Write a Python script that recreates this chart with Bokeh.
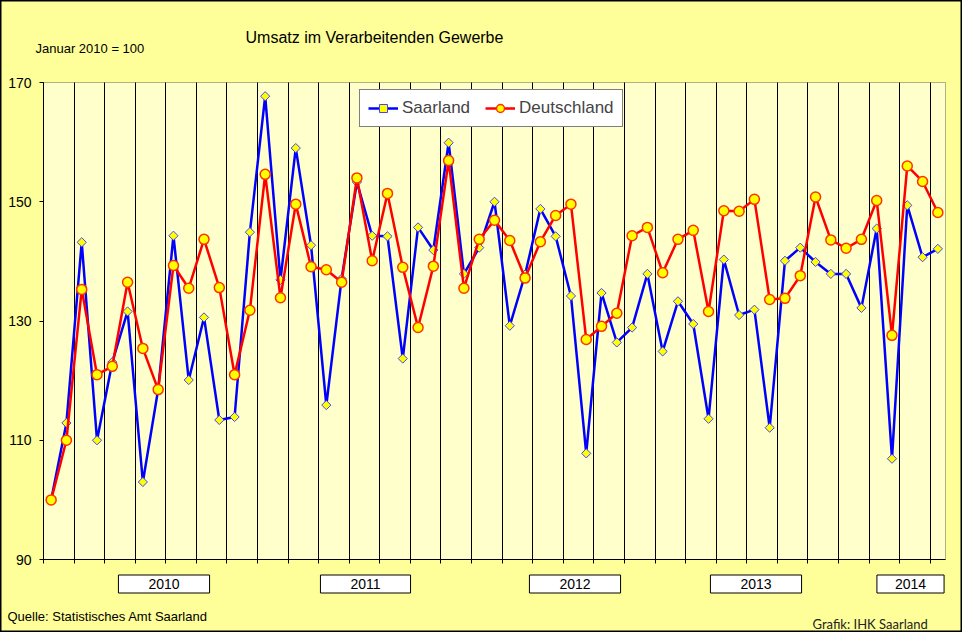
import math
import numpy as np
import pandas as pd
from bokeh.plotting import figure
from bokeh.models import (Range1d, FixedTicker, Label, Legend, LegendItem,
                          ColumnDataSource, LinearAxis, BoxAnnotation)
from bokeh.embed import file_html
from bokeh.resources import INLINE

# Monthly index, January 2010 = 100
months = list(pd.date_range("2010-01-01", periods=59, freq="MS").strftime("%Y-%m"))
saarland = [100.0, 112.9, 143.2, 110.0, 123.1, 131.6, 103.0, 118.5, 144.3, 120.1,
            130.6, 113.4, 113.9, 144.9, 167.7, 136.9, 159.0, 142.7, 115.9, 137.1,
            153.3, 144.3, 144.2, 123.7, 145.7, 141.9, 159.9, 137.9, 142.3, 150.0,
            129.2, 137.8, 148.8, 144.2, 134.2, 107.8, 134.7, 126.4, 128.9, 137.9,
            124.9, 133.3, 129.5, 113.6, 140.3, 131.0, 131.9, 112.1, 140.1, 142.3,
            139.9, 137.9, 137.9, 132.2, 145.5, 106.9, 149.4, 140.7, 142.1]
deutschland = [100.0, 110.0, 135.3, 121.0, 122.4, 136.5, 125.4, 118.5, 139.3, 135.5,
               143.7, 135.6, 121.0, 131.8, 154.6, 133.9, 149.6, 139.1, 138.6, 136.5,
               154.0, 140.1, 151.4, 139.0, 128.9, 139.2, 156.9, 135.5, 143.7, 146.9,
               143.5, 137.2, 143.3, 147.7, 149.6, 126.9, 129.1, 131.3, 144.3, 145.7,
               138.1, 143.7, 145.2, 131.6, 148.5, 148.4, 150.4, 133.6, 133.8, 137.6,
               150.8, 143.6, 142.2, 143.7, 150.2, 127.6, 156.0, 153.4, 148.2]
y_ticks = [90, 110, 130, 150, 170]
year_labels = ["2010", "2011", "2012", "2013", "2014"]

FONT = "Liberation Sans"
Y0, Y1 = 90, 170
N = len(months)
W, H = 962, 632
# plot area inside the picture (pixels)
PL, PT, PW, PH = 43, 82, 902, 477


def at(px, py):
    """picture pixel -> data coordinates"""
    return (px - PL) * N / PW, Y1 - (py - PT) * (Y1 - Y0) / PH


src = ColumnDataSource(dict(x=np.arange(N) + 0.5, month=months,
                            saar=saarland, de=deutschland))

x0, y1 = at(0, 0)
x1, y0 = at(W, H)
p = figure(width=W, height=H, output_backend="svg", toolbar_location=None,
           x_range=Range1d(x0, x1), y_range=Range1d(y0, y1),
           x_axis_location=None, y_axis_location=None, title=None,
           min_border=0)
p.grid.visible = False
p.background_fill_color = "#FFFF99"
p.border_fill_color = "#FFFF99"
p.outline_line_color = "black"
p.outline_line_width = 2

# plot area
p.add_layout(BoxAnnotation(left=0, right=N, bottom=Y0, top=Y1,
                           fill_color="#FFFFCC", fill_alpha=1,
                           line_color="black", line_width=1, level="image"))

# x axis: minor ticks reaching through the plot area act as vertical grid
xaxis = LinearAxis(fixed_location=Y0, bounds=(0, N),
                   ticker=FixedTicker(ticks=[], minor_ticks=list(range(0, N, 2))),
                   minor_tick_in=PH, minor_tick_out=4,
                   minor_tick_line_color="black", minor_tick_line_width=1,
                   major_tick_line_color=None, axis_line_color="black",
                   level="underlay")
p.add_layout(xaxis, "below")

yaxis = LinearAxis(fixed_location=0, bounds=(Y0, Y1),
                   ticker=FixedTicker(ticks=y_ticks),
                   major_tick_out=4, major_tick_in=0,
                   minor_tick_line_color=None, axis_line_color="black",
                   major_label_text_font=FONT, major_label_text_font_size="14px",
                   major_label_text_color="black", major_label_standoff=8)
p.add_layout(yaxis, "left")

l1 = p.line("x", "saar", source=src, line_color="#0000FF", line_width=2.5)
s1 = p.scatter("x", "saar", source=src, marker="square", angle=math.pi / 4,
               size=6.5, fill_color="#FFFF00", line_color="#4444FF", line_width=1)
l2 = p.line("x", "de", source=src, line_color="#FF0000", line_width=2.5)
s2 = p.scatter("x", "de", source=src, marker="circle", size=10,
               fill_color="#FFFF00", line_color="#FF3300", line_width=1.5)

legend = Legend(items=[LegendItem(label="Saarland", renderers=[l1, s1]),
                       LegendItem(label="Deutschland", renderers=[l2, s2])],
                orientation="horizontal", location=(359, H - 127),
                label_text_font=FONT, label_text_font_size="17px",
                glyph_width=30, glyph_height=20, label_standoff=4, spacing=15,
                padding=8, margin=0, border_line_color="black",
                border_line_width=1, background_fill_color="white",
                background_fill_alpha=1)
p.add_layout(legend)

# texts
tx, ty = at(245, 37)
p.add_layout(Label(x=tx, y=ty, text="Umsatz im Verarbeitenden Gewerbe",
                   text_font=FONT, text_font_size="16px", text_baseline="middle",
                   text_align="left", text_color="black"))
tx, ty = at(35, 48)
p.add_layout(Label(x=tx, y=ty, text="Januar 2010 = 100", text_font=FONT,
                   text_font_size="13px", text_baseline="middle", text_color="black"))
tx, ty = at(7, 616)
p.add_layout(Label(x=tx, y=ty, text="Quelle: Statistisches Amt Saarland",
                   text_font=FONT, text_font_size="13px", text_baseline="middle",
                   text_color="black"))
tx, ty = at(812, 615)
p.add_layout(Label(x=tx, y=ty, text="Grafik: IHK Saarland", text_font="Lato",
                   text_font_size="13px", text_baseline="top", text_color="#222222"))

# year boxes below the axis
box_centres = [163.5, 365, 574.5, 755.5, 910]
box_widths = [91, 90, 91, 91, 66]
for lab, cx, w in zip(year_labels, box_centres, box_widths):
    bx, by = at(cx, 583.5)
    pad = int(round((w - 31) / 2))
    p.add_layout(Label(x=bx, y=by, text=lab, text_font=FONT, text_font_size="14px",
                       text_align="center", text_baseline="middle",
                       text_color="black", background_fill_color="white",
                       border_line_color="black", border_line_width=1,
                       padding=dict(left=pad, right=pad, top=4, bottom=4)))

open("out.html", "w").write(file_html(p, INLINE))
